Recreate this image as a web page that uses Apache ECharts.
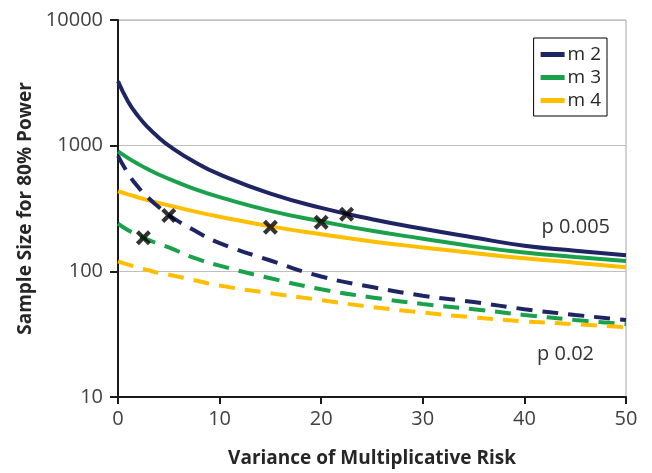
<!DOCTYPE html>
<html>
<head>
<meta charset="utf-8">
<script src="https://cdn.jsdelivr.net/npm/echarts@6/dist/echarts.min.js"></script>
<style>
  html, body { margin: 0; padding: 0; background: #fff; }
</style>
</head>
<body>
<div id="chart" style="width: 652px; height: 473px"></div>
<script>
// x positions (variance of multiplicative risk)
var xs = [0, 1, 2, 3, 4, 5, 7.5, 10, 15, 20, 25, 30, 35, 40, 45, 50];

// p 0.005 (solid)
var m2Solid = [3250, 2240, 1710, 1385, 1163, 1000, 745, 590, 415, 320, 260, 218, 186, 160, 146, 134];
var m3Solid = [900, 796, 713, 646, 590, 545, 453, 390, 303, 250, 210, 182, 158, 141, 130, 121];
var m4Solid = [434, 410, 387, 367, 350, 335, 300, 272, 228, 197, 173, 155, 140, 127, 117, 108];

// p 0.02 (dashed)
var m2Dash = [830, 600, 467, 383, 325, 280, 212, 168, 122, 91, 75, 64, 57, 50, 45, 41];
var m3Dash = [240, 212, 193, 178, 165, 155, 128, 111, 88, 72, 62, 55, 50, 45, 41, 38];
var m4Dash = [120, 113, 107, 102, 97, 94, 85, 77, 67, 59, 52, 47, 43, 40, 38, 36];

// black crosses
var crossX = [2.5, 5, 15, 20, 22.5];
var crossY = [185, 278, 224, 246, 284];

var colors = ["#1f2463", "#1ba14b", "#ffbe00"];
var font = "Open Sans";

function pairs(ys) {
  return xs.map(function (x, i) { return [x, ys[i]]; });
}

function lineSeries(name, ys, color, dashed) {
  return {
    name: name,
    type: "line",
    data: pairs(ys),
    smooth: true,
    showSymbol: false,
    silent: true,
    lineStyle: {
      color: color,
      width: 4,
      type: dashed ? [16, 10] : "solid",
    },
    itemStyle: { color: color },
  };
}

var myChart = echarts.init(document.getElementById("chart"));
var option = {
  animation: false,
  grid: {
    left: 118,
    right: 26,
    top: 20,
    bottom: 72,
    show: true,
    borderColor: "#a6a6a6",
    borderWidth: 1,
  },
  legend: {
    data: ["m 2", "m 3", "m 4"],
    orient: "vertical",
    right: 45,
    top: 38,
    padding: [7, 6, 6, 7],
    itemGap: 4,
    itemWidth: 24,
    itemHeight: 5,
    icon: "rect",
    borderColor: "#000",
    borderWidth: 1,
    borderRadius: 0,
    backgroundColor: "#fff",
    textStyle: { fontFamily: font, fontSize: 19, color: "#262626", padding: [0, 0, 0, -2] },
  },
  xAxis: {
    type: "value",
    min: 0,
    max: 50,
    interval: 10,
    name: "Variance of Multiplicative Risk",
    nameLocation: "middle",
    nameGap: 52,
    nameTextStyle: { fontFamily: font, fontSize: 19, fontWeight: "bold", color: "#262626" },
    axisLine: { show: true, lineStyle: { color: "#1a1a1a", width: 2 } },
    axisTick: { show: true, inside: false, length: 7, lineStyle: { color: "#1a1a1a", width: 2 } },
    axisLabel: { fontFamily: font, fontSize: 20, color: "#404040", margin: 12 },
    splitLine: { show: false },
  },
  yAxis: {
    type: "log",
    logBase: 10,
    min: 10,
    max: 10000,
    name: "Sample Size for 80% Power",
    nameLocation: "middle",
    nameGap: 80,
    nameTextStyle: { fontFamily: font, fontSize: 19, fontWeight: "bold", color: "#262626" },
    axisLine: { show: true, lineStyle: { color: "#1a1a1a", width: 2 } },
    axisTick: { show: true, inside: false, length: 8, lineStyle: { color: "#1a1a1a", width: 2 } },
    axisLabel: {
      fontFamily: font, fontSize: 20, color: "#404040", margin: 15,
      formatter: function (v) { return String(Math.round(v)); },
    },
    splitLine: { show: true, lineStyle: { color: "#bfbfbf", width: 1 } },
  },
  graphic: [
    {
      type: "text",
      right: 42,
      top: 217,
      style: { text: "p 0.005", fontFamily: font, fontSize: 20, fill: "#333" },
    },
    {
      type: "text",
      right: 58,
      top: 344,
      style: { text: "p 0.02", fontFamily: font, fontSize: 20, fill: "#333" },
    },
  ],
  series: [
    lineSeries("m 2", m2Solid, colors[0], false),
    lineSeries("m 3", m3Solid, colors[1], false),
    lineSeries("m 4", m4Solid, colors[2], false),
    lineSeries("m 2 p0.02", m2Dash, colors[0], true),
    lineSeries("m 3 p0.02", m3Dash, colors[1], true),
    lineSeries("m 4 p0.02", m4Dash, colors[2], true),
    {
      name: "cross",
      type: "scatter",
      silent: true,
      z: 5,
      data: crossX.map(function (x, i) { return [x, crossY[i]]; }),
      symbol: "path://M2,0 L5,3 L8,0 L10,2 L7,5 L10,8 L8,10 L5,7 L2,10 L0,8 L3,5 L0,2 Z",
      symbolSize: 15,
      itemStyle: { color: "#000" },
    },
  ],
};
myChart.setOption(option);
</script>
</body>
</html>
